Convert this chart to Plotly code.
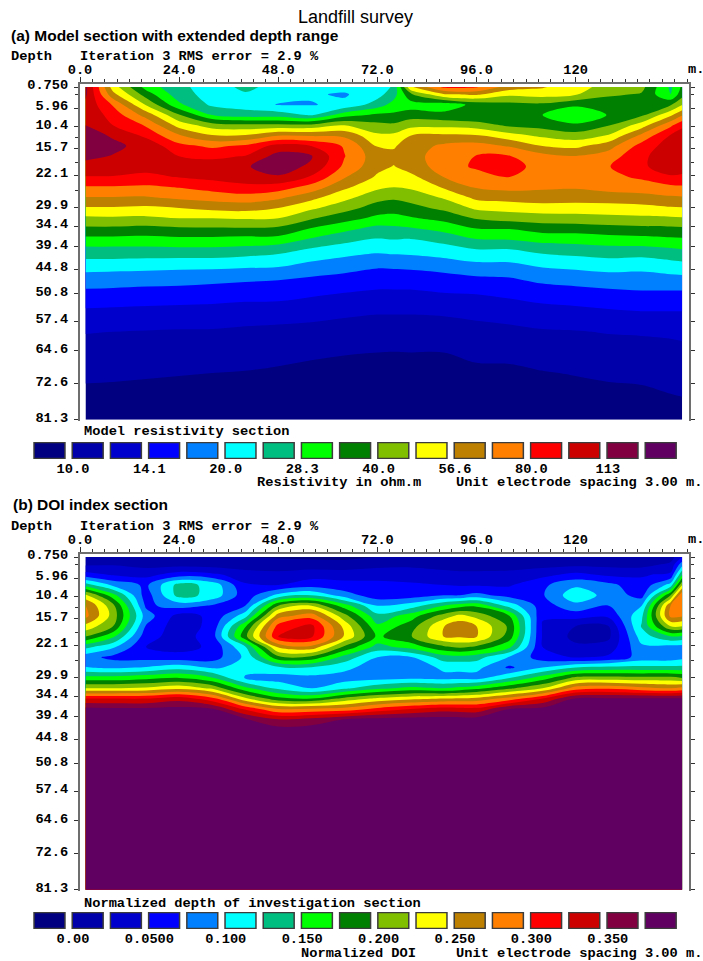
import numpy as np
import plotly.graph_objects as go

W, H = 703, 961
TITLE = "Landfill survey"

# Distances along the line (m) of the grid columns, and depths (m) of the rows.
X_A = [1.33, 8, 16, 24, 32, 40, 48, 56, 64, 72, 76, 80, 88, 96, 104, 112, 120, 128, 136, 143, 145.8]
X_B = [1.33, 8, 16, 24, 32, 40, 48, 56, 64, 72, 80, 88, 92, 96, 104, 112, 120, 128, 136, 143, 145.8]
DEPTH_A = [0.75, 2.5, 5, 7.5, 10, 12.5, 15, 17.5, 20, 22.5, 25, 27.5, 30, 32.5, 35, 37.5, 40,
           42.5, 45, 47.5, 50, 55, 60, 65, 70, 75, 81.3]
DEPTH_B = [0.75, 2.5, 5, 7.5, 10, 12.5, 15, 17.5, 20, 22.5, 25, 27.5, 30, 32.5, 35, 37.5, 40, 42.5, 81.3]

# Values, one line per column, in contour-interval units:
# level k is the k-th contour (k=1 is 10.0 ohm.m / DOI 0.00, each step 2^(1/4) / 0.025).
MODEL_LEVEL_BY_COLUMN = [
    [15.3,15.2,14.8,14.8,15.0,15.4,15.5,15.2,14.7,13.95,12.9,11.95,10.9,9.8,8.8,7.75,6.75,5.95,5.15,4.5,3.9,2.85,2.05,1.6,1.2,0.8,0.3],
    [10.5,11.3,12.9,13.6,14.0,14.9,15.2,14.95,14.5,13.95,12.9,11.95,10.9,9.85,8.8,7.75,6.75,5.95,5.1,4.45,3.85,2.8,2.0,1.6,1.15,0.8,0.3],
    [7.6,8.5,9.9,11.6,12.9,13.8,14.7,14.6,14.3,13.8,12.8,11.9,10.8,9.8,8.7,7.7,6.75,5.9,5.05,4.4,3.75,2.75,1.95,1.55,1.1,0.75,0.3],
    [6.2,6.4,7.2,9.1,10.6,12.1,13.3,14.0,14.4,14.05,13.05,12.2,11.0,10.0,8.85,7.8,6.8,5.85,5.0,4.35,3.7,2.7,1.9,1.5,1.05,0.7,0.25],
    [5.6,5.6,5.8,7.0,9.5,11.1,12.8,13.8,14.5,14.3,13.4,12.4,11.3,10.0,8.9,7.8,6.8,5.85,4.95,4.2,3.65,2.65,1.9,1.45,1.0,0.65,0.2],
    [6.2,5.9,5.5,6.5,9.3,11.1,13.2,14.05,14.9,14.4,13.8,12.55,11.4,10.1,8.9,7.7,6.7,5.7,4.85,4.1,3.55,2.55,1.8,1.4,0.95,0.6,0.2],
    [5.7,5.4,4.95,6.5,9.3,12.0,14.4,15.4,15.5,14.9,13.5,12.2,11.0,10.0,8.8,7.7,6.4,5.55,4.8,4.0,3.5,2.55,1.7,1.3,0.85,0.5,0.15],
    [5.3,5.1,4.95,5.9,9.3,11.9,14.0,15.1,14.8,13.9,12.6,11.3,10.2,9.1,7.95,6.9,5.9,5.15,4.4,3.8,3.3,2.35,1.7,1.15,0.75,0.45,0.1],
    [5.3,4.9,5.2,7.6,10.0,11.8,12.9,13.05,12.8,12.1,11.2,10.3,9.4,8.4,7.3,6.3,5.6,4.8,4.2,3.6,3.1,2.2,1.6,1.05,0.7,0.4,0.05],
    [5.2,5.6,6.5,8.2,9.3,10.2,10.95,11.4,11.3,10.85,10.2,9.35,8.55,7.75,6.7,5.95,5.25,4.6,3.9,3.45,2.95,2.1,1.5,1.0,0.7,0.4,0.05],
    [6.2,6.6,7.4,8.2,9.2,10.25,10.9,11.25,10.95,10.45,10.0,9.15,8.45,7.65,6.8,6.05,5.35,4.65,3.95,3.45,2.95,2.1,1.5,0.98,0.7,0.4,0.05],
    [10.8,8.8,7.5,8.5,9.7,11.0,11.5,11.6,11.5,10.7,10.15,9.4,8.65,7.9,6.9,6.0,5.4,4.7,4.0,3.5,2.95,2.1,1.5,1.0,0.7,0.4,0.05],
    [13.2,10.9,7.4,8.3,9.7,11.2,12.2,12.5,12.4,12.0,11.1,10.1,9.25,8.3,7.35,6.35,5.6,4.9,4.15,3.6,3.1,2.15,1.55,1.0,0.7,0.4,0.05],
    [13.1,11.2,8.3,8.0,9.5,11.1,12.4,13.05,13.2,12.5,12.1,11.25,10.2,9.1,8.0,7.0,6.0,5.2,4.4,3.75,3.15,2.3,1.65,1.2,0.8,0.45,0.1],
    [11.5,10.2,8.7,8.4,8.8,10.4,11.9,13.05,13.4,13.0,12.3,11.4,10.4,9.4,8.05,7.1,6.0,5.2,4.45,3.85,3.35,2.45,1.75,1.25,0.8,0.5,0.1],
    [11.1,10.4,8.8,8.0,8.6,9.8,11.0,12.35,12.6,12.5,12.15,11.5,10.6,9.5,8.45,7.4,6.4,5.5,4.85,4.2,3.6,2.65,1.9,1.4,0.95,0.6,0.15],
    [10.4,10.1,8.15,7.3,8.15,9.45,10.75,12.05,12.35,12.35,12.1,11.4,10.6,9.55,8.5,7.4,6.6,5.7,5.0,4.35,3.75,2.75,1.95,1.5,1.05,0.7,0.25],
    [9.6,9.2,8.3,8.05,8.95,10.1,11.6,12.5,12.95,12.7,12.4,11.5,10.6,9.7,8.65,7.6,6.7,5.9,5.15,4.5,3.9,2.9,2.05,1.6,1.15,0.8,0.4],
    [9.3,8.9,8.4,8.8,10.5,12.3,13.4,13.8,13.85,13.2,12.4,11.7,10.65,9.8,8.75,7.7,6.7,5.8,5.1,4.5,4.0,3.0,2.1,1.6,1.2,0.85,0.5],
    [6.8,7.0,8.9,10.8,12.8,14.1,14.5,14.6,14.5,13.9,12.75,11.85,10.9,9.85,8.8,7.85,6.9,6.05,5.3,4.6,4.0,3.0,2.15,1.7,1.35,1.0,0.55],
    [8.2,8.6,9.95,11.9,13.8,14.5,14.7,14.7,14.5,13.8,12.85,11.9,10.95,9.9,8.85,7.9,7.0,6.15,5.35,4.65,4.0,3.0,2.2,1.75,1.4,1.05,0.6],
]

DOI_LEVEL_BY_COLUMN = [
    [1.4,1.8,3.4,6.5,10.3,12.1,12.3,10.7,9.0,6.3,4.4,5.05,7.4,10.0,14.0,16.3,16.5,16.5,16.6],
    [1.3,1.9,2.9,4.8,7.4,9.3,9.6,9.0,7.2,5.2,3.7,4.8,7.4,10.0,14.0,16.2,16.5,16.5,16.6],
    [1.2,1.6,2.7,3.8,3.5,3.8,4.5,3.9,3.4,3.0,3.6,5.1,7.7,10.2,14.0,16.2,16.5,16.5,16.6],
    [1.0,1.6,3.5,6.4,6.4,4.4,2.6,2.4,2.5,2.6,3.4,5.6,8.0,10.7,14.6,16.3,16.5,16.5,16.6],
    [1.0,1.5,3.2,5.7,5.7,3.9,3.2,3.3,3.5,3.2,3.5,4.85,7.1,9.8,13.3,16.05,16.5,16.5,16.6],
    [1.0,1.3,2.6,3.1,3.4,4.0,5.6,7.9,8.7,5.9,5.2,5.3,4.9,7.3,10.2,13.8,16.1,16.5,16.6],
    [0.9,1.4,2.3,3.0,5.3,9.0,11.6,13.4,14.0,11.2,8.7,5.8,4.5,5.8,8.3,12.0,15.0,16.4,16.6],
    [0.8,1.4,2.6,3.5,6.0,10.0,12.6,14.3,14.2,11.7,8.7,5.9,4.7,4.9,8.0,12.1,15.3,16.5,16.6],
    [0.8,1.3,2.6,3.3,4.5,7.5,9.4,10.7,10.9,8.8,6.6,5.3,4.5,5.8,9.3,12.3,16.0,16.5,16.6],
    [1.0,1.6,2.7,3.2,3.4,5.0,6.3,7.2,7.8,6.6,5.0,4.4,4.6,6.7,10.2,13.3,16.3,16.5,16.6],
    [1.0,1.7,2.7,3.1,3.5,5.5,7.5,8.5,8.9,7.4,4.9,4.3,4.8,7.3,10.7,14.0,16.4,16.5,16.6],
    [1.0,1.5,2.4,3.0,4.0,7.0,9.5,10.95,11.0,8.8,6.5,5.2,4.7,7.0,11.0,14.5,16.4,16.5,16.6],
    [1.0,1.4,2.3,2.9,4.0,7.6,10.3,11.7,11.1,9.2,6.6,5.2,4.7,7.3,11.1,14.4,16.4,16.5,16.6],
    [1.0,1.4,2.3,2.9,4.3,7.8,9.7,11.0,11.05,8.8,6.4,5.3,4.6,7.7,11.3,14.3,16.4,16.5,16.6],
    [1.0,1.4,2.4,2.9,3.6,5.6,8.0,8.8,8.5,7.2,4.9,3.8,6.0,8.8,12.4,16.0,16.4,16.5,16.6],
    [1.0,1.6,2.7,3.8,3.9,3.5,3.1,2.9,2.9,3.0,3.5,5.0,7.5,10.0,14.0,16.3,16.4,16.5,16.6],
    [1.0,1.7,3.3,4.8,5.7,4.7,3.4,2.0,1.7,2.2,2.9,6.0,9.3,12.5,16.1,16.3,16.4,16.5,16.6],
    [1.0,1.7,2.8,4.3,4.6,4.0,3.2,2.0,1.8,2.4,3.2,6.3,9.4,12.8,16.1,16.3,16.4,16.5,16.6],
    [1.0,1.6,2.9,3.3,3.6,5.0,5.8,6.1,5.5,4.8,4.4,6.3,9.3,12.3,16.1,16.3,16.4,16.5,16.6],
    [1.5,2.2,3.2,5.4,9.0,12.0,12.3,10.0,6.9,4.6,4.4,6.3,9.3,12.0,16.1,16.3,16.4,16.5,16.6],
    [3.0,4.6,7.0,10.0,13.1,12.9,12.1,10.0,6.7,4.6,4.7,6.3,9.0,12.3,16.1,16.3,16.4,16.5,16.6],
]

BAND_COLORS = ["#000080", "#0000AA", "#0000CD", "#0000FF", "#0080FF", "#00FFFF", "#00BE80", "#00FF00",
               "#008000", "#80BE00", "#FFFF00", "#BE8000", "#FF8000", "#FF0000", "#CD0000", "#800040", "#600060"]
SWATCH_HEIGHT = [1] * 17

X_TICKS = [0, 24, 48, 72, 96, 120]
X_LABELS = ["0.0", "24.0", "48.0", "72.0", "96.0", "120"]
DEPTH_TICKS = [0.75, 5.96, 10.4, 15.7, 22.1, 29.9, 34.4, 39.4, 44.8, 50.8, 57.4, 64.6, 72.6, 81.3]
DEPTH_LABELS = ["0.750", "5.96", "10.4", "15.7", "22.1", "29.9", "34.4", "39.4", "44.8", "50.8", "57.4", "64.6", "72.6", "81.3"]
DEPTH_MINOR = [2.5, 13.0, 19.0, 25.8]
LEGEND_A = ["10.0", "14.1", "20.0", "28.3", "40.0", "56.6", "80.0", "113"]
LEGEND_B = ["0.00", "0.0500", "0.100", "0.150", "0.200", "0.250", "0.300", "0.350"]
LEGEND_TICKS = [0.615, 2.615, 4.615, 6.615, 8.615, 10.615, 12.615, 14.615]

MONO = dict(family="Liberation Mono", size=13.7, color="#000000", weight=700)
SANS_B = dict(family="Liberation Sans", size=15.5, color="#000000", weight=700)
SANS = dict(family="Liberation Sans", size=18, color="#000000")
AXC = "#6e6e6e"

def px(x): return x / W
def py(y): return 1 - y / H

steps = []
for i, c in enumerate(BAND_COLORS):
    steps += [[i / 17, c], [(i + 1) / 17, c]]

fig = go.Figure()

def section(x, z_cols, depth, xa, ya):
    fig.add_trace(go.Contour(
        x=x, y=depth, z=np.array(z_cols).T.tolist(), xaxis=xa, yaxis=ya,
        colorscale=steps, zmin=0, zmax=17, autocontour=False, showscale=False,
        contours=dict(start=1, end=16, size=1, coloring="fill", showlines=False),
        line=dict(width=0), hoverinfo="skip"))

def swatches(xa, ya):
    fig.add_trace(go.Bar(
        x=list(range(17)), y=SWATCH_HEIGHT, xaxis=xa, yaxis=ya, width=0.81,
        marker=dict(color=BAND_COLORS, line=dict(color="#3c3c3c", width=1.5)), hoverinfo="skip"))

section(X_A, MODEL_LEVEL_BY_COLUMN, DEPTH_A, "x", "y")
section(X_B, DOI_LEVEL_BY_COLUMN, DEPTH_B, "x2", "y2")
swatches("x3", "y3")
swatches("x4", "y4")

def x_axis(anchor):
    return dict(domain=[px(80), px(688.5)], range=[0, 147.33], side="top", anchor=anchor,
                tickmode="array", tickvals=X_TICKS, ticktext=X_LABELS, ticks="outside", ticklen=5,
                tickcolor="#303030", tickwidth=1, showline=True, linecolor=AXC, linewidth=2,
                showgrid=False, zeroline=False, tickfont=MONO, ticklabelstandoff=-2,
                minor=dict(tick0=0, dtick=3, ticks="outside", ticklen=3, tickcolor="#303030", tickwidth=1, showgrid=False))

def y_axis(anchor, top):
    return dict(domain=[py(top + 336.6), py(top)], range=[81.5, 0], anchor=anchor,
                tickmode="array", tickvals=DEPTH_TICKS, ticktext=DEPTH_LABELS, ticks="outside", ticklen=4,
                tickcolor="#303030", tickwidth=1, showline=True, linecolor=AXC, linewidth=2, mirror="ticks",
                showgrid=False, zeroline=False, tickfont=MONO, ticklabelstandoff=3, ticklabelshift=3,
                minor=dict(tickmode="array", tickvals=DEPTH_MINOR, ticks="outside", ticklen=3,
                           tickcolor="#303030", tickwidth=1, showgrid=False))

def leg_x(anchor, labels):
    return dict(domain=[px(30.4), px(679.8)], range=[-0.5, 16.5], anchor=anchor, tickmode="array",
                tickvals=LEGEND_TICKS, ticktext=labels, ticks="", showline=False, showgrid=False,
                zeroline=False, tickfont=MONO, ticklabelstandoff=-1)

def leg_y(anchor, top):
    return dict(domain=[py(top + 17), py(top)], range=[-0.03, 1.03], anchor=anchor, visible=False)

fig.update_layout(
    width=W, height=H, autosize=False, margin=dict(l=0, r=0, t=0, b=0, pad=0, autoexpand=False),
    paper_bgcolor="white", plot_bgcolor="white", showlegend=False,
    xaxis=x_axis("y"), yaxis=y_axis("x", 84),
    xaxis2=x_axis("y2"), yaxis2=y_axis("x2", 554),
    xaxis3=leg_x("y3", LEGEND_A), yaxis3=leg_y("x3", 442),
    xaxis4=leg_x("y4", LEGEND_B), yaxis4=leg_y("x4", 912),
)

def note(x, y, text, font, anchor="left"):
    fig.add_annotation(x=px(x), y=py(y), xref="paper", yref="paper", text=text, showarrow=False,
                       xanchor=anchor, yanchor="middle", font=font, borderpad=0, borderwidth=0)

note(355, 17, TITLE, SANS, "center")
note(11, 35, "(a) Model section with extended depth range", SANS_B)
note(11, 56, "Depth", MONO)
note(80, 56, "Iteration 3 RMS error = 2.9 %", MONO)
note(688, 69, "m.", MONO)
note(84, 432, "Model resistivity section", MONO)
note(257, 483, "Resistivity in ohm.m", MONO)
note(456, 483, "Unit electrode spacing 3.00 m.", MONO)
note(13, 504, "(b) DOI index section", SANS_B)
note(11, 526, "Depth", MONO)
note(80, 526, "Iteration 3 RMS error = 2.9 %", MONO)
note(688, 539, "m.", MONO)
note(84, 903, "Normalized depth of investigation section", MONO)
note(301, 953, "Normalized DOI", MONO)
note(456, 953, "Unit electrode spacing 3.00 m.", MONO)

fig.write_html("out.html", config=dict(displayModeBar=False),
               post_script="document.body.style.margin='0';document.body.style.overflow='hidden';")
